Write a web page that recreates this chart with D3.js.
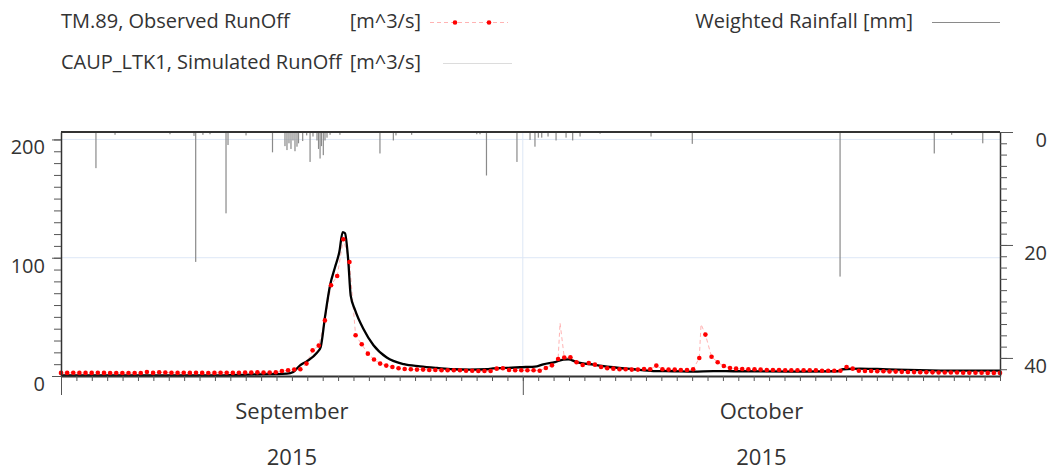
<!DOCTYPE html>
<html>
<head>
<meta charset="utf-8">
<script src="https://cdn.jsdelivr.net/npm/d3@7"></script>
<style>
  body { margin: 0; background: #fff; }
  svg text { font-family: "Open Sans", "Noto Sans", sans-serif; fill: #333; }
</style>
</head>
<body>
<div id="chart"></div>
<script>
// observed runoff (m^3/s), markers every ~9.6 h from 1 Sep 2015
const obsValues = [
  2.6, 2.6, 2.7, 2.6, 2.6, 2.6, 2.7, 2.6, 2.5, 2.5,
  2.5, 2.5, 2.5, 2.5, 3.4, 2.6, 3.2, 3.0, 2.8, 2.6,
  2.7, 2.6, 2.8, 2.6, 2.5, 2.6, 2.8, 2.7, 2.6, 2.8,
  2.9, 3.0, 3.1, 3.0, 2.9, 3.2, 4.2, 4.8, 5.5, 5.7,
  10.5, 21.7, 25.7, 47, 76.7, 84.5, 115.6, 96.4, 34.4, 26.8,
  18.9, 13.9, 10.5, 8.8, 7.6, 6.5, 5.9, 5.7, 5.4, 5.4,
  5.1, 5.1, 4.8, 4.8, 4.8, 4.8, 4.5, 4.5, 4.2, 4.2,
  4.2, 6.2, 6.5, 5.1, 4.8, 4.8, 4.8, 4.8, 4.5, 6.8,
  9, 14.4, 15.6, 15.8, 11.6, 9.3, 11, 9.6, 7.6, 6.5,
  6.2, 5.7, 5.7, 5.4, 5.4, 5.9, 5.7, 8.8, 5.7, 5.4,
  5.4, 5.1, 5.1, 5.7, 15.2, 35, 16.3, 11.6, 8.5, 6.8,
  6.2, 5.9, 5.7, 5.7, 5.4, 5.1, 5.1, 5.1, 4.8, 4.8,
  4.8, 4.8, 4.8, 4.8, 4.5, 4.5, 4.5, 4.5, 7.6, 6.2,
  4.5, 4.2, 4.2, 4.0, 4.0, 3.8, 3.7, 3.5, 3.4, 3.3,
  3.2, 3.2, 3.1, 3.0, 3.0, 2.9, 2.9, 2.8, 2.8, 2.7,
  2.7, 2.6, 2.6, 2.6
];
// short observed peaks between markers [day offset, m^3/s]
const obsSpikes = [[32.42, 44.8], [41.58, 43.7]];

// simulated runoff [day offset, m^3/s]
const simPoints = [
  [0, 0.5], [9.87, 0.5], [12.28, 1.2], [14.68, 2], [15.09, 3.4], [15.53, 9],
  [15.96, 12.4], [16.61, 19.4], [16.87, 24.5], [17.15, 50], [17.48, 76.7],
  [17.8, 92], [18.08, 104.8], [18.3, 121.7], [18.45, 120.6], [18.66, 97.8],
  [18.82, 68], [19.1, 56], [19.64, 40], [20.3, 26], [21.16, 15.6],
  [22.28, 10], [23.32, 8.2], [24.43, 6.8], [25.47, 5.7], [26.57, 5.4],
  [27.67, 5.7], [28.06, 6.5], [28.97, 6.8], [29.82, 7.4], [30.92, 8.2],
  [31.33, 9.9], [32.09, 11.8], [32.63, 13.9], [32.96, 14.1], [33.5, 11.8],
  [34.58, 9.6], [35.67, 7.6], [37.18, 5.7], [38.48, 4.2], [39.78, 4],
  [41.08, 3.7], [42.38, 4.2], [43.68, 4], [48.01, 3.7], [50.48, 4],
  [50.8, 5.7], [51.91, 6.2], [53.01, 5.9], [54.31, 5.4], [56.45, 4.8],
  [58.86, 4.5], [61, 4.5]
];

// weighted rainfall [day offset, mm]
const rainEvents = [
  [2.27, 6.4], [3.51, 0.5], [7.08, 0.4], [8.64, 0.7], [8.75, 23], [9.22, 0.5],
  [9.68, 0.4], [10.72, 14.4], [10.85, 2.3], [12.02, 0.6], [13.74, 3.6],
  [14.55, 2.5], [14.68, 3.2], [14.81, 2.0], [14.94, 3.0], [15.07, 1.5],
  [15.2, 3.4], [15.33, 2.6], [15.43, 2.0], [15.7, 1.6], [15.96, 0.6],
  [16.18, 5.3], [16.37, 0.8], [16.63, 1.5], [16.73, 3.0], [16.83, 4.7],
  [16.92, 2.5], [17.04, 4.1], [17.15, 1.5], [17.28, 1.0], [17.48, 0.5],
  [18.12, 0.5], [20.72, 3.8], [21.59, 1.5], [21.76, 0.6], [22.78, 0.5],
  [27.01, 0.4], [27.22, 0.4], [27.64, 7.7], [29.62, 5.3], [30.47, 1.4],
  [30.79, 2.6], [31.01, 1.0], [31.23, 1.0], [31.64, 0.8], [32.16, 1.5],
  [32.81, 1.0], [33.24, 1.5], [33.72, 0.8], [35.02, 0.3], [38.33, 0.8],
  [41.01, 2.1], [50.61, 25.6], [56.73, 3.8], [57.86, 0.5], [59.88, 2]
];

const months = ["September", "October"];
const years = ["2015", "2015"];
const leftTicks = [0, 100, 200];
const rightTicks = [0, 20, 40];
const seriesNames = ["TM.89, Observed RunOff", "CAUP_LTK1, Simulated RunOff", "Weighted Rainfall [mm]"];
const unitLabel = "[m^3/s]";

const W = 1053, H = 472;
const plot = { left: 61, right: 1000, top: 132, bottom: 376 };
const DAY = 864e5;
const start = Date.UTC(2015, 8, 1);
const end = Date.UTC(2015, 10, 1);
const octStart = Date.UTC(2015, 9, 1);
const obsStep = (end - start) / 153;

const svg = d3.select("#chart").append("svg")
  .attr("width", W)
  .attr("height", H);

const x = d3.scaleUtc().domain([start, end]).range([plot.left, plot.right]);
const y = d3.scaleLinear().domain([0, 206.3]).range([plot.bottom, plot.top]);
const yR = d3.scaleLinear().domain([0, 43.2]).range([plot.top, plot.bottom]);

const obs = obsValues.map((v, i) => ({ t: start + i * obsStep, v }));
const obsLine = obs.concat(obsSpikes.map(([d, v]) => ({ t: start + d * DAY, v })))
  .sort((a, b) => a.t - b.t);
const sim = simPoints.map(([d, v]) => ({ t: start + d * DAY, v }));
const rain = rainEvents.map(([d, v]) => ({ t: start + d * DAY, v }));

// grid
const grid = svg.append("g").attr("stroke", "#dde7f6").attr("stroke-width", 1);
[100, 200].forEach(v => {
  grid.append("line").attr("x1", plot.left).attr("x2", plot.right)
    .attr("y1", y(v)).attr("y2", y(v));
});
grid.append("line")
  .attr("x1", x(octStart)).attr("x2", x(octStart))
  .attr("y1", plot.top).attr("y2", plot.bottom);

// rainfall hanging from the top
svg.append("g").selectAll("rect")
  .data(rain)
  .join("rect")
  .attr("x", d => x(d.t) - 0.6)
  .attr("y", plot.top)
  .attr("width", 1.2)
  .attr("height", d => yR(d.v) - plot.top)
  .attr("fill", "#8a8a8a");

// observed dashed line
svg.append("path")
  .datum(obsLine)
  .attr("fill", "none")
  .attr("stroke", "#ffb3b3")
  .attr("stroke-width", 1)
  .attr("stroke-dasharray", "4,3")
  .attr("d", d3.line().x(d => x(d.t)).y(d => y(d.v)));

// simulated
svg.append("path")
  .datum(sim)
  .attr("fill", "none")
  .attr("stroke", "#000")
  .attr("stroke-width", 2.3)
  .attr("stroke-linejoin", "round")
  .attr("d", d3.line().curve(d3.curveMonotoneX).x(d => x(d.t)).y(d => y(d.v)));

// observed markers
svg.append("g").selectAll("circle")
  .data(obs)
  .join("circle")
  .attr("cx", d => x(d.t))
  .attr("cy", d => y(d.v))
  .attr("r", 2.3)
  .attr("fill", "#ff0000");

// axes
function styleAxis(g) {
  g.selectAll("path.domain").attr("stroke", "#333").attr("stroke-width", 1.5);
  g.selectAll(".tick line").attr("stroke", "#555");
  g.selectAll(".tick text").style("font-size", "20px").attr("fill", "#333");
}

svg.append("g")
  .attr("transform", `translate(${plot.left},0)`)
  .call(d3.axisLeft(y).tickValues(d3.range(0, 201, 10)).tickSize(7).tickSizeOuter(0).tickFormat(""))
  .call(styleAxis);
svg.append("g")
  .attr("transform", `translate(${plot.left},0)`)
  .call(d3.axisLeft(y).tickValues(leftTicks).tickSize(9).tickPadding(7).tickSizeOuter(0))
  .call(styleAxis)
  .call(g => g.select(".domain").remove())
  .call(g => g.selectAll(".tick text").attr("dy", "0.72em"));

svg.append("g")
  .attr("transform", `translate(${plot.right},0)`)
  .call(d3.axisRight(yR).tickValues(d3.range(0, 43, 2)).tickSize(7).tickSizeOuter(0).tickFormat(""))
  .call(styleAxis);
svg.append("g")
  .attr("transform", `translate(${plot.right},0)`)
  .call(d3.axisRight(yR).tickValues(rightTicks).tickSize(13).tickSizeOuter(0))
  .call(styleAxis)
  .call(g => g.select(".domain").remove())
  .call(g => g.selectAll(".tick text").attr("x", 47).attr("text-anchor", "end").attr("dy", "0.72em"));

svg.append("g")
  .attr("transform", `translate(0,${plot.bottom})`)
  .call(d3.axisBottom(x).ticks(d3.utcDay.every(1)).tickSize(5).tickSizeOuter(0).tickFormat(""))
  .call(styleAxis)
  .call(g => g.select(".domain").attr("stroke-width", 2));
svg.append("g")
  .attr("transform", `translate(0,${plot.bottom})`)
  .call(d3.axisBottom(x).tickValues([start, octStart]).tickSize(19).tickFormat(""))
  .call(styleAxis)
  .call(g => g.select(".domain").remove());

// top frame
svg.append("line")
  .attr("x1", plot.left).attr("x2", plot.right)
  .attr("y1", plot.top).attr("y2", plot.top)
  .attr("stroke", "#333").attr("stroke-width", 2);

// month / year labels
const bounds = [start, octStart, end];
months.forEach((m, i) => {
  const cx = (x(bounds[i]) + x(bounds[i + 1])) / 2;
  svg.append("text").attr("x", cx).attr("y", 419)
    .attr("text-anchor", "middle").style("font-size", "22px").text(m);
  svg.append("text").attr("x", cx).attr("y", 465)
    .attr("text-anchor", "middle").style("font-size", "22px").text(years[i]);
});

// legend
const lg = svg.append("g").style("font-size", "20px");
lg.append("text").attr("x", 61).attr("y", 28).text(seriesNames[0]);
lg.append("text").attr("x", 421).attr("y", 28).attr("text-anchor", "end").text(unitLabel);
lg.append("text").attr("x", 61).attr("y", 69).text(seriesNames[1]);
lg.append("text").attr("x", 421).attr("y", 69).attr("text-anchor", "end").text(unitLabel);
lg.append("text").attr("x", 913).attr("y", 28).attr("text-anchor", "end").text(seriesNames[2]);

lg.append("line").attr("x1", 430).attr("x2", 508).attr("y1", 22.5).attr("y2", 22.5)
  .attr("stroke", "#ffb3b3").attr("stroke-dasharray", "4,3");
[455, 489].forEach(cx => lg.append("circle").attr("cx", cx).attr("cy", 22.5).attr("r", 2.3).attr("fill", "#ff0000"));
lg.append("line").attr("x1", 443).attr("x2", 512).attr("y1", 63.5).attr("y2", 63.5)
  .attr("stroke", "#dcdcdc");
lg.append("line").attr("x1", 932).attr("x2", 1000).attr("y1", 22.5).attr("y2", 22.5)
  .attr("stroke", "#8a8a8a");
</script>
</body>
</html>
